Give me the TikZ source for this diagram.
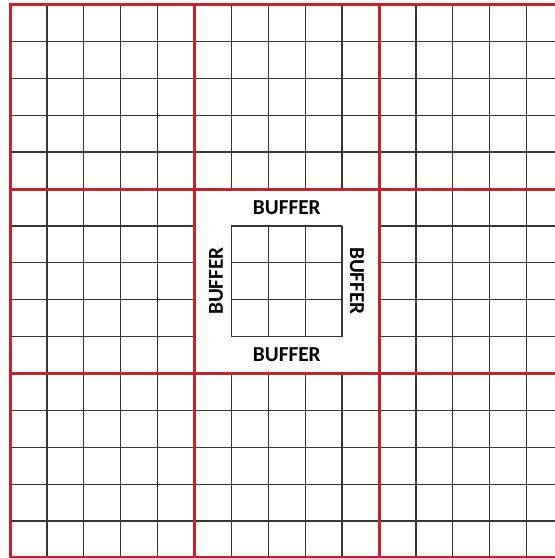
\documentclass[tikz,border=0pt]{standalone}
\usepackage{fontspec}
\setmainfont{Carlito}
\definecolor{gridred}{RGB}{200,32,44}
\definecolor{gridgray}{RGB}{55,55,55}
\begin{document}
\begin{tikzpicture}[x=1pt,y=-1pt,
  gline/.style={draw=gridgray,line width=1.3pt},
  rline/.style={draw=gridred,line width=3pt},
  buflabel/.style={font=\bfseries\fontsize{21.3}{21.3}\selectfont,inner sep=0pt,text=black}]
\useasboundingbox (0,0) rectangle (555,558);
\clip (0,0) rectangle (555,558);
\def\c{36.9}
\foreach \k in {1,...,14} {
  \draw[gline] ({10+\k*\c},4.5) -- ({10+\k*\c},565);
  \draw[gline] (10,{4.5+\k*\c}) -- (565,{4.5+\k*\c});
}
\fill[white] (194.5,189) rectangle (379,373.5);
\foreach \k in {0,...,3} {
  \draw[gline] ({231.4+\k*\c},225.9) -- ({231.4+\k*\c},336.6);
  \draw[gline] (231.4,{225.9+\k*\c}) -- (342.1,{225.9+\k*\c});
}
\foreach \x in {10,194.5,379} \draw[rline] (\x,3) -- (\x,565);
\foreach \y in {4.5,189,373.5,557} \draw[rline] (8.5,\y) -- (565,\y);
\node[buflabel] (top) at (286.8,207.5) {BUFFER};
\node[buflabel] (bottom) at (286.8,355) {BUFFER};
\node[buflabel,rotate=90] (left) at (216,281) {BUFFER};
\node[buflabel,rotate=-90] (right) at (357,281) {BUFFER};
\end{tikzpicture}
\end{document}
